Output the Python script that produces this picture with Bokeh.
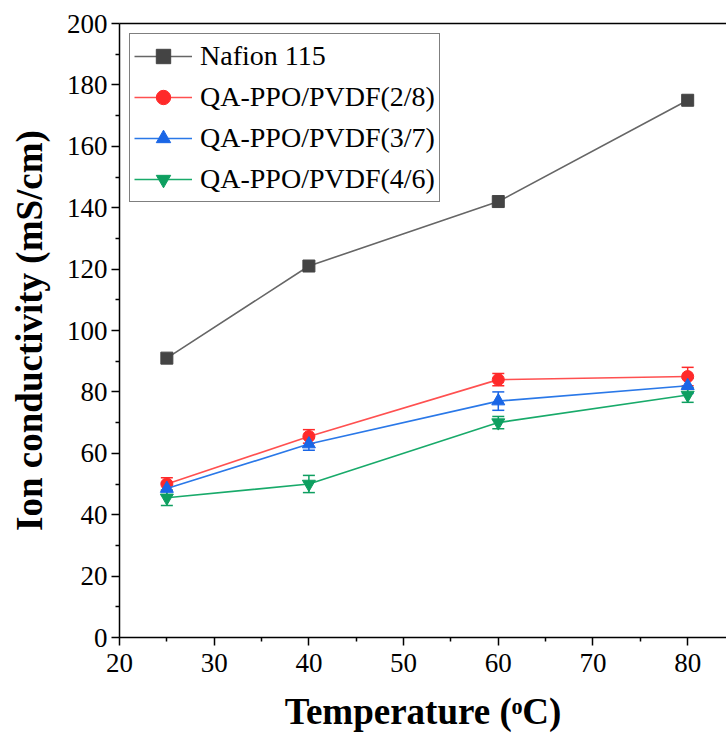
from bokeh.plotting import figure
from bokeh.models import Range1d, LinearAxis, Legend, LegendItem, Whisker, ColumnDataSource, FixedTicker
from bokeh.embed import file_html
from bokeh.resources import INLINE

temps = [25, 40, 60, 80]
nafion = [91, 121, 142, 175]
r28 = [50, 65.5, 84, 85]
r37 = [48.5, 63, 77, 82]
r46 = [45.5, 50, 70, 79]
err28 = [2, 2.2, 2, 3]
err37 = [2, 2, 3, 2.5]
err46 = [2.5, 2.8, 2, 2.4]

x_ticks = [20, 30, 40, 50, 60, 70, 80]
y_ticks = [0, 20, 40, 60, 80, 100, 120, 140, 160, 180, 200]

SERIF = "'Liberation Serif'"
TICKFONT = "Times"

p = figure(width=726, height=747, output_backend="svg", toolbar_location=None,
           x_range=Range1d(20, 84.1), y_range=Range1d(0, 200),
           min_border_left=119, min_border_right=0, min_border_top=23, min_border_bottom=110)
p.outline_line_color = None
p.grid.visible = False
p.background_fill_color = "white"

for ax in (p.xaxis[0], p.yaxis[0]):
    ax.axis_line_color = "black"
    ax.axis_line_width = 1.5
    ax.major_tick_line_width = 1.5
    ax.minor_tick_line_width = 1.5
    ax.major_tick_in = 0
    ax.major_tick_out = 8
    ax.minor_tick_in = 0
    ax.minor_tick_out = 4
    ax.major_label_text_font = TICKFONT
    ax.major_label_text_font_size = "27px"
    ax.major_label_text_color = "black"
    ax.axis_label_text_font = SERIF
    ax.axis_label_text_font_style = "bold"
    ax.axis_label_text_font_size = "37px"
    ax.axis_label_text_color = "black"

p.xaxis[0].ticker = FixedTicker(ticks=x_ticks, minor_ticks=[25, 35, 45, 55, 65, 75, 85])
p.yaxis[0].ticker = FixedTicker(ticks=y_ticks, minor_ticks=[10, 30, 50, 70, 90, 110, 130, 150, 170, 190])
p.xaxis[0].axis_label = "Temperature (ᵒC)"
p.yaxis[0].axis_label = "Ion conductivity (mS/cm)"
p.xaxis[0].major_label_standoff = 8
p.yaxis[0].major_label_standoff = 4
p.xaxis[0].axis_label_standoff = 16
p.yaxis[0].axis_label_standoff = 14

top = LinearAxis(ticker=FixedTicker(ticks=[]), major_label_text_font_size="0px",
                 axis_line_width=1.5, major_tick_line_color=None, minor_tick_line_color=None)
p.add_layout(top, "above")

series = [
    ("Nafion 115", nafion, None, "#444444", "#666666", "square", 12),
    ("QA-PPO/PVDF(2/8)", r28, err28, "#FF2A2A", "#FF5050", "circle", 12),
    ("QA-PPO/PVDF(3/7)", r37, err37, "#1A66E6", "#2A78E8", "triangle", 13),
    ("QA-PPO/PVDF(4/6)", r46, err46, "#0E9F60", "#18AA6A", "inverted_triangle", 13),
]

items = []
for name, ys, errs, mcolor, lcolor, marker, size in series:
    data = dict(x=temps, y=ys)
    if errs is not None:
        data["lo"] = [v - e for v, e in zip(ys, errs)]
        data["hi"] = [v + e for v, e in zip(ys, errs)]
    src = ColumnDataSource(data)
    l = p.line("x", "y", source=src, line_color=lcolor, line_width=1.6)
    if errs is not None:
        w = Whisker(base="x", lower="lo", upper="hi", source=src, line_color=mcolor, line_width=1.5)
        w.upper_head.line_color = mcolor
        w.lower_head.line_color = mcolor
        w.upper_head.size = 12
        w.lower_head.size = 12
        w.upper_head.line_width = 1.5
        w.lower_head.line_width = 1.5
        p.add_layout(w)
    m = p.scatter("x", "y", source=src, marker=marker, size=size, fill_color=mcolor, line_color=mcolor)
    items.append(LegendItem(label=name, renderers=[l, m]))

legend = Legend(items=items, location="top_left",
                label_text_font=SERIF, label_text_font_size="28px", label_text_color="black",
                border_line_color="black", border_line_width=1.5,
                glyph_width=58, glyph_height=36, label_standoff=8, spacing=5,
                padding=4, margin=10, background_fill_alpha=1)
p.add_layout(legend, "center")

open("out.html", "w").write(file_html(p, INLINE))
